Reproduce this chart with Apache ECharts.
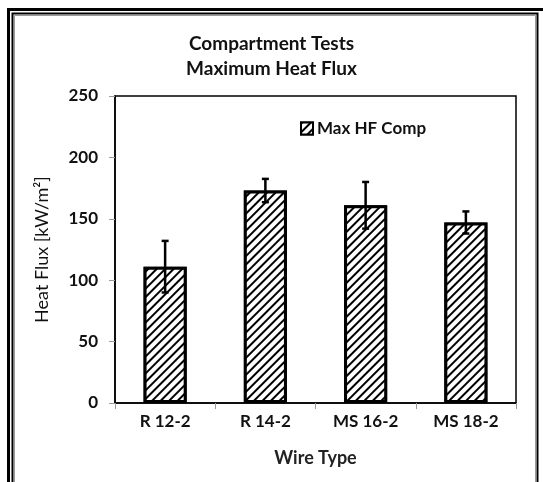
<!DOCTYPE html>
<html><head><meta charset="utf-8">
<script src="https://cdn.jsdelivr.net/npm/echarts@6/dist/echarts.min.js"></script>
<style>html,body{margin:0;padding:0;background:#fff}#c{width:543px;height:482px}</style>
</head><body><div id="c"></div>
<script>
var categories = ['R 12-2', 'R 14-2', 'MS 16-2', 'MS 18-2'];
var maxHF = [111, 173, 161, 147];
var errPlus = [21, 9.5, 19, 9];
var errMinus = [21, 9.5, 19, 9];
var yTicks = [0, 50, 100, 150, 200, 250];

var FONT = 'Lato';
var hatch = {symbol: 'rect', dashArrayX: [1, 0], dashArrayY: [2, 4], rotation: -Math.PI / 4, color: '#000', backgroundColor: '#fff', symbolSize: 1};
var chart = echarts.init(document.getElementById('c'));
var errData = categories.map(function (c, i) { return [i, maxHF[i] - errMinus[i], maxHF[i] + errPlus[i]]; });
chart.setOption({
  animation: false,
  backgroundColor: '#fff',
  textStyle: {fontFamily: FONT},
  title: {
    text: 'Compartment Tests\nMaximum Heat Flux',
    left: 'center', top: 26,
    textStyle: {fontFamily: FONT, fontSize: 19, fontWeight: 'bold', color: '#111', lineHeight: 25}
  },
  legend: {
    left: 295, top: 115, itemWidth: 12, itemHeight: 12, itemGap: 4,
    data: [{name: 'Max HF Comp', icon: 'rect'}],
    textStyle: {fontFamily: FONT, fontSize: 17, fontWeight: 'bold', color: '#111', padding: [0, 0, 0, -1]}
  },
  grid: {left: 115, top: 96, right: 27, bottom: 79, show: true, borderColor: '#000', borderWidth: 1.5},
  xAxis: {
    type: 'category', data: categories,
    name: 'Wire Type', nameLocation: 'middle', nameGap: 46,
    nameTextStyle: {fontFamily: FONT, fontSize: 18, fontWeight: 'bold', color: '#222'},
    axisLine: {lineStyle: {color: '#000', width: 1.5}},
    axisTick: {show: true, alignWithLabel: false, length: 6, lineStyle: {color: '#999'}},
    axisLabel: {fontFamily: FONT, fontSize: 17, fontWeight: 'bold', color: '#111', margin: 10}
  },
  yAxis: {
    type: 'value', min: yTicks[0], max: yTicks[yTicks.length - 1], interval: 50,
    name: 'Heat Flux [kW/m²]', nameLocation: 'middle', nameGap: 64,
    nameTextStyle: {fontFamily: FONT, fontSize: 18, color: '#111'},
    splitLine: {show: false},
    axisLine: {show: true, lineStyle: {color: '#000', width: 1.5}},
    axisTick: {show: true, length: 6, lineStyle: {color: '#999'}},
    axisLabel: {fontFamily: FONT, fontSize: 17, fontWeight: 'bold', color: '#111', margin: 17}
  },
  series: [
    {
      name: 'Max HF Comp', type: 'bar', data: maxHF, barWidth: '43%',
      itemStyle: {color: '#fff', borderColor: '#000', borderWidth: 3, decal: hatch}
    },
    {
      name: 'err', type: 'custom', data: errData, z: 10,
      renderItem: function (params, api) {
        var x = api.value(0);
        var lo = api.coord([x, api.value(1)]);
        var hi = api.coord([x, api.value(2)]);
        var cap = 3.5;
        var st = {stroke: '#000', lineWidth: 2.5};
        return {type: 'group', children: [
          {type: 'line', shape: {x1: lo[0], y1: lo[1], x2: hi[0], y2: hi[1]}, style: st},
          {type: 'line', shape: {x1: lo[0] - cap, y1: lo[1], x2: lo[0] + cap, y2: lo[1]}, style: st},
          {type: 'line', shape: {x1: hi[0] - cap, y1: hi[1], x2: hi[0] + cap, y2: hi[1]}, style: st}
        ]};
      }
    }
  ],
  graphic: [
    {type: 'rect', shape: {x: 8.5, y: 9.5, width: 620, height: 620}, style: {fill: null, stroke: '#000', lineWidth: 3}},
    {type: 'rect', shape: {x: 12.5, y: 13.5, width: 525, height: 620}, style: {fill: null, stroke: '#000', lineWidth: 2}},
    {type: 'rect', shape: {x: 14.5, y: 15.5, width: 521, height: 620}, style: {fill: null, stroke: '#999', lineWidth: 1}}
  ]
});
</script></body></html>
